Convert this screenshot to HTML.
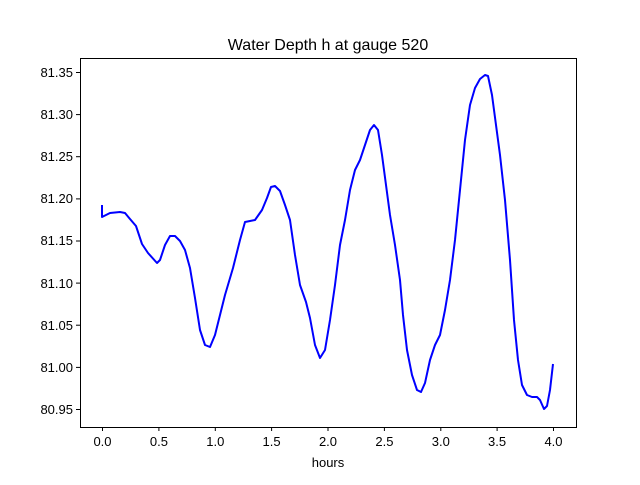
<!DOCTYPE html>
<html><head><meta charset="utf-8"><style>body{margin:0;background:#fff}</style></head><body>
<svg width="640" height="480" xmlns="http://www.w3.org/2000/svg" font-family="Liberation Sans, DejaVu Sans, sans-serif">
<rect width="640" height="480" fill="#fff"/>
<text x="328" y="50" font-size="16" text-anchor="middle">Water Depth h at gauge 520</text>
<polyline fill="none" stroke="#0000ff" stroke-width="2" stroke-linejoin="round" points="102,205 102,217 104,216 110,213 120,212 125,213 130,219 136,226 142,244 148,253 157,263 160,260 165,245 170,236 175,236 180,241 185,250 190,268 195,298 200,330 205,345 210,347 215,335 220,315 225,295 233,268 240,240 245,222 250,221 255,220 262,210 267,198 271,187 275,186 280,191 285,205 290,220 295,255 300,285 306,302 310,318 315,345 320,358 325,350 330,320 335,285 340,245 345,220 350,190 355,170 360,160 365,145 370,130 374,125 378,130 382,155 386,185 390,215 395,245 400,280 403,315 407,350 412,375 417,390 421,392 425,383 430,360 435,345 440,335 445,310 450,280 455,240 460,190 465,140 470,105 475,88 480,79 485,75 488,76 492,95 496,125 500,155 505,200 510,260 514,320 518,360 522,385 527,395 532,397 537,397 540,400 544,409 547,406 550,390 553,364"/>
<rect x="80.5" y="58.5" width="496" height="369" fill="none" stroke="#000" stroke-width="1"/>
<g stroke="#000" stroke-width="1">
<line x1="102.5" y1="427" x2="102.5" y2="431"/>
<line x1="158.9" y1="427" x2="158.9" y2="431"/>
<line x1="215.3" y1="427" x2="215.3" y2="431"/>
<line x1="271.6" y1="427" x2="271.6" y2="431"/>
<line x1="328" y1="427" x2="328" y2="431"/>
<line x1="384.4" y1="427" x2="384.4" y2="431"/>
<line x1="440.8" y1="427" x2="440.8" y2="431"/>
<line x1="497.1" y1="427" x2="497.1" y2="431"/>
<line x1="553.5" y1="427" x2="553.5" y2="431"/>
<line x1="76" y1="72.5" x2="80" y2="72.5"/>
<line x1="76" y1="114.6" x2="80" y2="114.6"/>
<line x1="76" y1="156.7" x2="80" y2="156.7"/>
<line x1="76" y1="198.9" x2="80" y2="198.9"/>
<line x1="76" y1="241" x2="80" y2="241"/>
<line x1="76" y1="283.1" x2="80" y2="283.1"/>
<line x1="76" y1="325.2" x2="80" y2="325.2"/>
<line x1="76" y1="367.4" x2="80" y2="367.4"/>
<line x1="76" y1="409.5" x2="80" y2="409.5"/>
</g>
<g font-size="13" text-anchor="middle">
<text x="102.5" y="446">0.0</text><text x="158.9" y="446">0.5</text><text x="215.3" y="446">1.0</text>
<text x="271.6" y="446">1.5</text><text x="328" y="446">2.0</text><text x="384.4" y="446">2.5</text>
<text x="440.8" y="446">3.0</text><text x="497.1" y="446">3.5</text><text x="553.5" y="446">4.0</text>
<text x="328" y="467">hours</text>
</g>
<g font-size="13" text-anchor="end">
<text x="73" y="77">81.35</text><text x="73" y="119">81.30</text><text x="73" y="161">81.25</text>
<text x="73" y="203">81.20</text><text x="73" y="245">81.15</text><text x="73" y="288">81.10</text>
<text x="73" y="330">81.05</text><text x="73" y="372">81.00</text><text x="73" y="414">80.95</text>
</g>
</svg>
</body></html>
